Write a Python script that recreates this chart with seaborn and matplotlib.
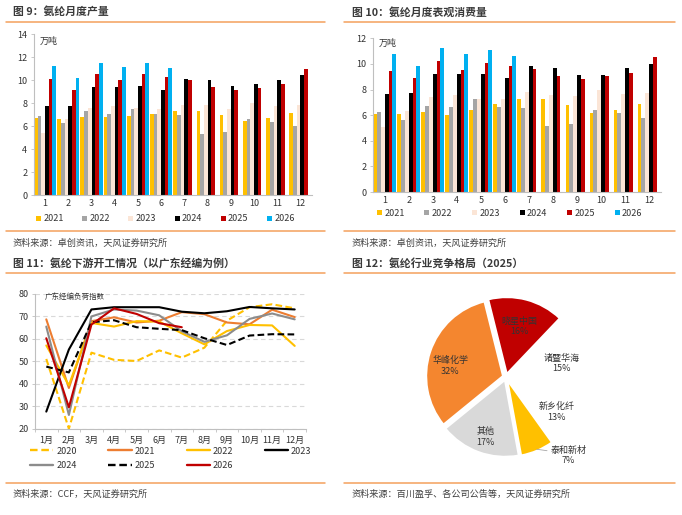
import numpy as np
import pandas as pd
import matplotlib
matplotlib.use('Agg')
import matplotlib.pyplot as plt
import seaborn as sns
from matplotlib.lines import Line2D
from matplotlib.patches import Patch

# ---------------- data ----------------
months = [str(i) for i in range(1, 13)]
bar_years = ['2021', '2022', '2023', '2024', '2025', '2026']

prod_2021 = [6.70, 6.64, 6.84, 6.84, 6.93, 7.10, 7.30, 7.33, 7.00, 6.50, 6.70, 7.16]
prod_2022 = [6.90, 6.26, 7.30, 7.04, 7.48, 7.10, 7.00, 5.33, 5.54, 6.64, 6.38, 6.03]
prod_2023 = [5.45, 6.60, 7.60, 7.80, 7.56, 7.50, 7.88, 7.83, 7.54, 8.06, 7.77, 7.83]
prod_2024 = [7.80, 7.80, 9.45, 9.40, 9.50, 9.20, 10.09, 10.00, 9.50, 9.68, 10.00, 10.49]
prod_2025 = [10.10, 9.20, 10.58, 10.00, 10.58, 10.30, 10.00, 9.45, 9.16, 9.33, 9.70, 10.99]
prod_2026 = [11.25, 10.20, 11.48, 11.16, 11.48, 11.07]

cons_2021 = [6.09, 6.09, 6.25, 6.04, 6.43, 6.88, 7.24, 7.27, 6.77, 6.17, 6.43, 6.85]
cons_2022 = [6.25, 5.60, 6.72, 6.67, 7.29, 6.61, 6.59, 5.16, 5.29, 6.43, 6.17, 5.76]
cons_2023 = [5.10, 6.35, 7.42, 7.58, 7.29, 7.29, 7.81, 7.58, 7.50, 7.97, 7.66, 7.70]
cons_2024 = [7.66, 7.70, 9.22, 9.24, 9.24, 8.90, 9.87, 9.66, 9.14, 9.14, 9.66, 10.03]
cons_2025 = [9.45, 8.93, 10.23, 9.56, 10.08, 9.82, 9.60, 9.06, 8.80, 9.06, 9.30, 10.57]
cons_2026 = [10.78, 9.82, 11.25, 10.75, 11.09, 10.65]

line_months = [f'{i}月' for i in range(1, 13)]
line_years = ['2020', '2021', '2022', '2023', '2024', '2025', '2026']
load_2020 = [51.0, 20.0, 53.8, 50.6, 50.1, 54.8, 51.6, 56.0, 68.0, 74.0, 75.3, 73.5]
load_2021 = [68.6, 38.1, 67.8, 69.5, 67.2, 68.0, 71.8, 70.9, 67.2, 66.4, 72.9, 69.6]
load_2022 = [57.0, 39.3, 67.0, 65.4, 67.8, 67.6, 62.4, 57.5, 63.4, 66.1, 65.9, 56.8]
load_2023 = [27.6, 55.2, 73.0, 74.0, 74.0, 74.0, 72.0, 71.3, 72.2, 74.1, 73.5, 73.0]
load_2024 = [65.4, 26.1, 69.9, 73.0, 72.5, 70.4, 63.3, 58.6, 61.5, 68.8, 71.2, 68.6]
load_2025 = [47.6, 45.0, 67.3, 68.2, 65.1, 64.4, 63.8, 60.2, 57.2, 61.4, 62.0, 61.9]
load_2026 = [60.2, 29.5, 66.3, 73.5, 71.0, 66.9, 65.1]

pie_labels = ['晓星中国', '诸暨华海', '新乡化纤', '泰和新材', '其他', '华峰化学']
pie_values = [16, 15, 13, 7, 17, 32]

# ---------------- styles ----------------
sns.set_theme(style='white')
plt.rcParams['font.family'] = ['Noto Sans CJK SC', 'DejaVu Sans']
plt.rcParams['axes.unicode_minus'] = False

bar_colors = ['#FFC000', '#A5A5A5', '#FBE5D6', '#000000', '#C00000', '#00B0F0']
line_styles = {
    '2020': dict(color='#FFC000', ls=(0, (3.2, 1.6))),
    '2021': dict(color='#ED7D31', ls='-'),
    '2022': dict(color='#FFC000', ls='-'),
    '2023': dict(color='#000000', ls='-'),
    '2024': dict(color='#8C8C8C', ls='-'),
    '2025': dict(color='#000000', ls=(0, (3.2, 1.6))),
    '2026': dict(color='#C00000', ls='-'),
}
pie_colors = ['#C00000', '#FFFFFF', '#FFFFFF', '#FFC000', '#D9D9D9', '#F4862F']

ORANGE = '#F4A15D'
TXT = '#333333'
SPINE = '#BFBFBF'
FS = 6.5

W, H = 682, 515
fig = plt.figure(figsize=(W / 100, H / 100), dpi=100)


def rect(l, t, r, b):
    return [l / W, 1 - b / H, (r - l) / W, (b - t) / H]


def fx(x):
    return x / W


def fy(y):
    return 1 - y / H


def hline(y, x0, x1):
    fig.add_artist(Line2D([fx(x0), fx(x1)], [fy(y), fy(y)], color=ORANGE, lw=1.1,
                          transform=fig.transFigure))


def title(x, y, s):
    fig.text(fx(x), fy(y), s, fontsize=7.8, fontweight='bold', color='#3A3A3A',
             ha='left', va='center')


def source(x, y, s):
    fig.text(fx(x), fy(y), s, fontsize=6.6, color='#404040', ha='left', va='center')


def make_df(series):
    rows = []
    for yr, vals in zip(bar_years, series):
        for m, v in zip(months, vals):
            rows.append((m, yr, v))
    return pd.DataFrame(rows, columns=['month', 'year', 'value'])


def bar_panel(ax, df, ymax, unit_xy, leg_x, leg_y, pitch_sp):
    sns.barplot(data=df, x='month', y='value', hue='year', order=months,
                hue_order=bar_years, palette=bar_colors, saturation=1,
                width=0.95, gap=0, errorbar=None, legend=False, ax=ax,
                linewidth=0, edgecolor='none')
    ax.set_xlim(-0.5, 11.5)
    ax.set_ylim(0, ymax)
    ax.set_yticks(range(0, ymax + 1, 2))
    ax.set_xlabel('')
    ax.set_ylabel('')
    for s in ['top', 'right']:
        ax.spines[s].set_visible(False)
    for s in ['left', 'bottom']:
        ax.spines[s].set_color(SPINE)
        ax.spines[s].set_linewidth(0.8)
    ax.xaxis.tick_bottom()
    ax.yaxis.tick_left()
    ax.tick_params(axis='y', length=2.5, width=0.6, color=SPINE, labelsize=FS,
                   labelcolor=TXT, pad=2, left=True)
    ax.tick_params(axis='x', length=0, labelsize=FS, labelcolor=TXT, pad=3)
    ax.text(unit_xy[0], unit_xy[1], '万吨', transform=ax.transAxes, fontsize=FS,
            color=TXT, ha='left', va='center')
    handles = [Patch(facecolor=c, edgecolor='none') for c in bar_colors]
    fig.legend(handles, bar_years, ncol=6, loc='center left',
               bbox_to_anchor=(fx(leg_x), fy(leg_y)), bbox_transform=fig.transFigure,
               frameon=False, fontsize=FS, handlelength=0.55, handleheight=0.55,
               handletextpad=0.25, columnspacing=pitch_sp, borderpad=0, borderaxespad=0,
               labelcolor=TXT)


# ---------------- panel 1 ----------------
title(13, 12, '图 9：氨纶月度产量')
hline(22.3, 6, 325)
ax1 = fig.add_axes(rect(33.5, 34.3, 312, 195.3))
bar_panel(ax1, make_df([prod_2021, prod_2022, prod_2023, prod_2024, prod_2025, prod_2026]),
          14, (0.023, 0.955), 36, 219, 2.05)
hline(231, 6, 325)
source(13, 243, '资料来源：卓创资讯，天风证券研究所')

# ---------------- panel 2 ----------------
title(352, 12, '图 10：氨纶月度表观消费量')
hline(22.3, 344, 675)
ax2 = fig.add_axes(rect(372.7, 38.3, 661, 192))
bar_panel(ax2, make_df([cons_2021, cons_2022, cons_2023, cons_2024, cons_2025, cons_2026]),
          12, (0.022, 0.965), 377, 213, 2.2)
hline(231, 344, 675)
source(352, 243, '资料来源：卓创资讯，天风证券研究所')

# ---------------- panel 3 ----------------
title(13, 263.5, '图 11：氨纶下游开工情况（以广东经编为例）')
hline(273.3, 6, 325)
ax3 = fig.add_axes(rect(35, 293.7, 306, 428.7))
x_pos = np.arange(1, 13)
loads = [load_2020, load_2021, load_2022, load_2023, load_2024, load_2025, load_2026]
line_handles = {}
for yr, vals in zip(line_years, loads):
    st = line_styles[yr]
    sns.lineplot(x=x_pos[:len(vals)], y=vals, ax=ax3, color=st['color'],
                 linestyle=st['ls'], linewidth=1.5, legend=False)
    line_handles[yr] = Line2D([], [], color=st['color'], linestyle=st['ls'], linewidth=1.7)
ax3.set_xlim(0.5, 12.5)
ax3.set_ylim(20, 80)
ax3.set_yticks(range(20, 81, 10))
ax3.set_xticks(x_pos)
ax3.set_xticklabels(line_months)
ax3.set_xticks(np.arange(0.5, 12.6, 1), minor=True)
ax3.tick_params(axis='x', which='major', length=0, labelsize=FS, labelcolor=TXT, pad=5)
ax3.tick_params(axis='x', which='minor', length=2.5, width=0.6, color=SPINE, bottom=True)
ax3.tick_params(axis='y', length=2.5, width=0.6, color=SPINE, labelsize=FS,
                labelcolor=TXT, pad=2, left=True)
ax3.yaxis.grid(True, color='#D9D9D9', linestyle=(0, (4, 3)), linewidth=0.8)
ax3.set_axisbelow(True)
for s in ['top', 'right']:
    ax3.spines[s].set_visible(False)
for s in ['left', 'bottom']:
    ax3.spines[s].set_color(SPINE)
    ax3.spines[s].set_linewidth(0.8)
ax3.text(0.037, 0.975, '广东经编负荷指数', transform=ax3.transAxes, fontsize=5.4,
         color=TXT, ha='left', va='center')
order = ['2020', '2024', '2021', '2025', '2022', '2026', '2023']
fig.legend([line_handles[k] for k in order], order, ncol=4, loc='upper left',
           bbox_to_anchor=(fx(30), fy(446.5)), bbox_transform=fig.transFigure,
           frameon=False, fontsize=FS, handlelength=2.6, handletextpad=0.3,
           columnspacing=3.5, labelspacing=0.6, borderpad=0, borderaxespad=0,
           labelcolor=TXT)
hline(482.7, 6, 325)
source(13, 494.5, '资料来源：CCF，天风证券研究所')

# ---------------- panel 4 ----------------
title(352, 263.5, '图 12：氨纶行业竞争格局（2025）')
hline(273.3, 344, 675)
ax4 = fig.add_axes(rect(406, 277, 606, 477))
wedges, _ = ax4.pie(pie_values, colors=pie_colors, startangle=104, counterclock=False,
                    explode=[0.04] * len(pie_values),
                    wedgeprops=dict(edgecolor='white', linewidth=1.5))
ax4.set_xlim(-1.3, 1.3)
ax4.set_ylim(-1.3, 1.3)
ax4.set_aspect('equal')
ax4.axis('off')
# label placement: (radius, angle shift in degrees) relative to each wedge's mid-angle
label_place = {'晓星中国': (0.68, 0.0), '诸暨华海': (0.745, -5.6), '新乡化纤': (0.80, -3.5),
               '其他': (0.82, 1.3), '华峰化学': (0.74, 7.4)}
for w, lab, val in zip(wedges, pie_labels, pie_values):
    mid = (w.theta1 + w.theta2) / 2
    txt = f'{lab}\n{val}%'
    if lab == '泰和新材':
        m = np.deg2rad(mid)
        ax4.annotate(txt, xy=(1.02 * np.cos(m), 1.02 * np.sin(m)),
                     xytext=(0.81, -1.02), fontsize=FS, color=TXT, ha='center',
                     va='center', linespacing=1.2,
                     arrowprops=dict(arrowstyle='-', color='#A6A6A6', lw=0.6,
                                     shrinkA=0, shrinkB=0,
                                     relpos=(0.0, 0.72)))
    else:
        r, dth = label_place[lab]
        a = np.deg2rad(mid + dth)
        ax4.text(r * np.cos(a), r * np.sin(a), txt, fontsize=FS,
                 color=TXT, ha='center', va='center', linespacing=1.25)
hline(482.7, 344, 675)
source(352, 494.5, '资料来源：百川盈孚、各公司公告等，天风证券研究所')

fig.savefig('out.png', dpi=100)
